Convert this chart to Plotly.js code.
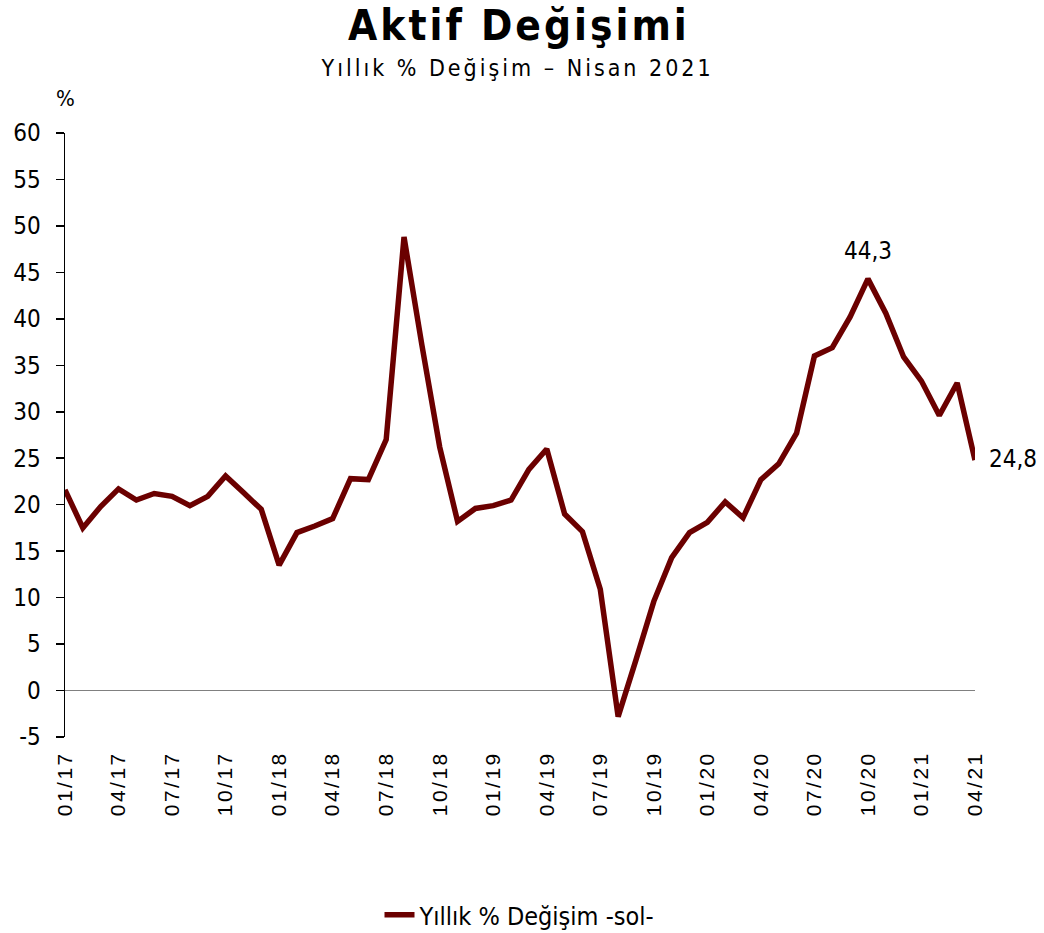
<!DOCTYPE html>
<html>
<head>
<meta charset="utf-8">
<script src="https://cdn.plot.ly/plotly-3.0.1.min.js"></script>
<style>
html,body{margin:0;padding:0;background:#fff;}
#chart{width:1044px;height:933px;}
#chart .gtitle{letter-spacing:3px;}
#chart .annotation[data-index="0"] .annotation-text{letter-spacing:3px;}
#chart .xtick text{letter-spacing:2.5px;}
</style>
</head>
<body>
<div id="chart"></div>
<script>
const months = [
  "01/17","02/17","03/17","04/17","05/17","06/17","07/17","08/17","09/17","10/17","11/17","12/17",
  "01/18","02/18","03/18","04/18","05/18","06/18","07/18","08/18","09/18","10/18","11/18","12/18",
  "01/19","02/19","03/19","04/19","05/19","06/19","07/19","08/19","09/19","10/19","11/19","12/19",
  "01/20","02/20","03/20","04/20","05/20","06/20","07/20","08/20","09/20","10/20","11/20","12/20",
  "01/21","02/21","03/21","04/21"
];
const yoyChange = [
  21.6,17.5,19.8,21.7,20.5,21.2,20.9,19.9,20.9,23.1,21.3,19.5,
  13.5,17.0,17.7,18.5,22.8,22.7,27.0,48.8,37.2,26.2,18.2,19.6,
  19.9,20.5,23.8,26.0,19.0,17.1,10.9,-2.8,3.3,9.6,14.3,17.0,
  18.1,20.3,18.6,22.7,24.4,27.7,36.0,36.9,40.2,44.3,40.6,35.9,
  33.3,29.6,33.1,24.8
];
const tickMonths = ["01/17","04/17","07/17","10/17","01/18","04/18","07/18","10/18","01/19","04/19","07/19","10/19","01/20","04/20","07/20","10/20","01/21","04/21"];
const yTicks = [-5,0,5,10,15,20,25,30,35,40,45,50,55,60];
const yTickText = ["-5","0","5","10","15","20","25","30","35","40","45","50","55","60"];
const seriesName = "Yıllık % Değişim -sol-";
const labelPeak = {month:"10/20", text:"44,3", value:44.3};
const labelLast = {month:"04/21", text:"24,8", value:24.8};

const lineColor = "#6b0000";
const fontMain = "'DejaVu Sans Condensed', 'DejaVu Sans', sans-serif";

const trace = {
  x: months, y: yoyChange, type: "scatter", mode: "lines",
  name: seriesName,
  line: {color: lineColor, width: 5.5},
  hoverinfo: "x+y"
};

const layout = {
  width: 1044, height: 933,
  margin: {l: 65, r: 69, t: 133, b: 196, autoexpand: false},
  paper_bgcolor: "#fff", plot_bgcolor: "#fff",
  showlegend: true,
  legend: {orientation: "h", x: 0.5, xanchor: "center", y: -(915-737)/604, yanchor: "middle",
    font: {family: fontMain, size: 25, color: "#000"}, itemwidth: 30},
  title: {text: "<b>Aktif Değişimi</b>", x: 0.497, xanchor: "center", y: 1 - 25/933, yanchor: "middle",
    font: {family: fontMain, size: 42, color: "#000"}},
  xaxis: {
    type: "category", range: [0, 51], automargin: false,
    tickmode: "array", tickvals: tickMonths, ticktext: tickMonths,
    tickangle: -90, ticks: "", showline: false, showgrid: false, zeroline: false,
    ticklabelstandoff: 9,
    tickfont: {family: "'Liberation Sans', Arial, sans-serif", size: 21, color: "#000"}
  },
  yaxis: {
    range: [-5, 60], tickmode: "array", tickvals: yTicks, ticktext: yTickText, automargin: false,
    ticks: "outside", ticklen: 8, tickwidth: 1.5, tickcolor: "#000", ticklabelstandoff: 10,
    showline: true, linecolor: "#000", linewidth: 1.5,
    showgrid: false, zeroline: true, zerolinecolor: "#808080", zerolinewidth: 1.5,
    tickfont: {family: fontMain, size: 24, color: "#000"}
  },
  annotations: [
    {xref: "paper", yref: "paper", x: 0.497, y: 1.0 + (133-68)/604, text: "Yıllık % Değişim – Nisan 2021",
      showarrow: false, xanchor: "center", yanchor: "middle",
      font: {family: fontMain, size: 23, color: "#000"}},
    {xref: "paper", yref: "paper", x: 0, y: 1.0 + (133-98)/604, text: "%",
      showarrow: false, xanchor: "center", yanchor: "middle",
      font: {family: fontMain, size: 22, color: "#000"}},
    {x: labelPeak.month, y: labelPeak.value, text: labelPeak.text, showarrow: false,
      yanchor: "bottom", yshift: 12, font: {family: fontMain, size: 24, color: "#000"}},
    {x: labelLast.month, y: labelLast.value, text: labelLast.text, showarrow: false,
      xanchor: "left", xshift: 12, yshift: 1, font: {family: fontMain, size: 24, color: "#000"}}
  ]
};

Plotly.newPlot("chart", [trace], layout, {displayModeBar: false, staticPlot: true});
</script>
</body>
</html>
